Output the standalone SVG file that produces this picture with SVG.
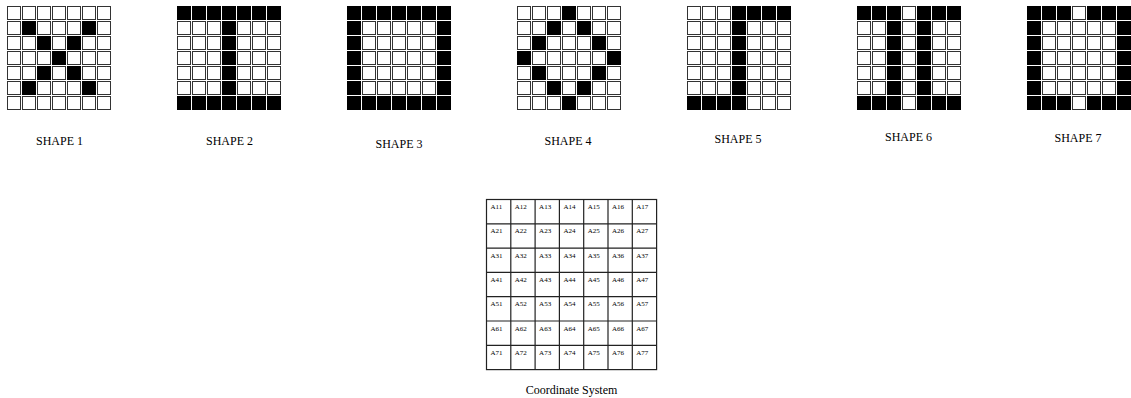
<svg xmlns="http://www.w3.org/2000/svg" xmlns:xlink="http://www.w3.org/1999/xlink" width="1131" height="398" viewBox="0 0 1131 398">
<style>
.k{fill:#000;stroke:#000;stroke-width:1}
.lbl{font-family:"Liberation Serif","Times New Roman",serif;font-size:12px;fill:#000;text-anchor:middle}
.ct{font-family:"Liberation Serif","Times New Roman",serif;font-size:7px;fill:#000}
.gl{stroke:#222;stroke-width:1.2;fill:none}
</style>
<defs>
<pattern id="cells" patternUnits="userSpaceOnUse" x="0" y="0" width="15" height="15">
<rect x="0.5" y="0.5" width="13" height="13" fill="#fff" stroke="#333" stroke-width="1"/>
</pattern>
</defs>
<rect width="1131" height="398" fill="#fff"/>

<g id="shape1" transform="translate(7,6)">
<rect width="105" height="105" fill="url(#cells)"/>
<rect class="k" x="15.5" y="15.5" width="13" height="13"/>
<rect class="k" x="75.5" y="15.5" width="13" height="13"/>
<rect class="k" x="30.5" y="30.5" width="13" height="13"/>
<rect class="k" x="60.5" y="30.5" width="13" height="13"/>
<rect class="k" x="45.5" y="45.5" width="13" height="13"/>
<rect class="k" x="30.5" y="60.5" width="13" height="13"/>
<rect class="k" x="60.5" y="60.5" width="13" height="13"/>
<rect class="k" x="15.5" y="75.5" width="13" height="13"/>
<rect class="k" x="75.5" y="75.5" width="13" height="13"/>
</g>
<text class="lbl" x="59.5" y="145">SHAPE 1</text>

<g id="shape2" transform="translate(177,6)">
<rect width="105" height="105" fill="url(#cells)"/>
<rect class="k" x="0.5" y="0.5" width="13" height="13"/>
<rect class="k" x="15.5" y="0.5" width="13" height="13"/>
<rect class="k" x="30.5" y="0.5" width="13" height="13"/>
<rect class="k" x="45.5" y="0.5" width="13" height="13"/>
<rect class="k" x="60.5" y="0.5" width="13" height="13"/>
<rect class="k" x="75.5" y="0.5" width="13" height="13"/>
<rect class="k" x="90.5" y="0.5" width="13" height="13"/>
<rect class="k" x="45.5" y="15.5" width="13" height="13"/>
<rect class="k" x="45.5" y="30.5" width="13" height="13"/>
<rect class="k" x="45.5" y="45.5" width="13" height="13"/>
<rect class="k" x="45.5" y="60.5" width="13" height="13"/>
<rect class="k" x="45.5" y="75.5" width="13" height="13"/>
<rect class="k" x="0.5" y="90.5" width="13" height="13"/>
<rect class="k" x="15.5" y="90.5" width="13" height="13"/>
<rect class="k" x="30.5" y="90.5" width="13" height="13"/>
<rect class="k" x="45.5" y="90.5" width="13" height="13"/>
<rect class="k" x="60.5" y="90.5" width="13" height="13"/>
<rect class="k" x="75.5" y="90.5" width="13" height="13"/>
<rect class="k" x="90.5" y="90.5" width="13" height="13"/>
</g>
<text class="lbl" x="229.5" y="145">SHAPE 2</text>

<g id="shape3" transform="translate(347,6)">
<rect width="105" height="105" fill="url(#cells)"/>
<rect class="k" x="0.5" y="0.5" width="13" height="13"/>
<rect class="k" x="15.5" y="0.5" width="13" height="13"/>
<rect class="k" x="30.5" y="0.5" width="13" height="13"/>
<rect class="k" x="45.5" y="0.5" width="13" height="13"/>
<rect class="k" x="60.5" y="0.5" width="13" height="13"/>
<rect class="k" x="75.5" y="0.5" width="13" height="13"/>
<rect class="k" x="90.5" y="0.5" width="13" height="13"/>
<rect class="k" x="0.5" y="15.5" width="13" height="13"/>
<rect class="k" x="90.5" y="15.5" width="13" height="13"/>
<rect class="k" x="0.5" y="30.5" width="13" height="13"/>
<rect class="k" x="90.5" y="30.5" width="13" height="13"/>
<rect class="k" x="0.5" y="45.5" width="13" height="13"/>
<rect class="k" x="90.5" y="45.5" width="13" height="13"/>
<rect class="k" x="0.5" y="60.5" width="13" height="13"/>
<rect class="k" x="90.5" y="60.5" width="13" height="13"/>
<rect class="k" x="0.5" y="75.5" width="13" height="13"/>
<rect class="k" x="90.5" y="75.5" width="13" height="13"/>
<rect class="k" x="0.5" y="90.5" width="13" height="13"/>
<rect class="k" x="15.5" y="90.5" width="13" height="13"/>
<rect class="k" x="30.5" y="90.5" width="13" height="13"/>
<rect class="k" x="45.5" y="90.5" width="13" height="13"/>
<rect class="k" x="60.5" y="90.5" width="13" height="13"/>
<rect class="k" x="75.5" y="90.5" width="13" height="13"/>
<rect class="k" x="90.5" y="90.5" width="13" height="13"/>
</g>
<text class="lbl" x="399" y="148">SHAPE 3</text>

<g id="shape4" transform="translate(517,6)">
<rect width="105" height="105" fill="url(#cells)"/>
<rect class="k" x="45.5" y="0.5" width="13" height="13"/>
<rect class="k" x="30.5" y="15.5" width="13" height="13"/>
<rect class="k" x="60.5" y="15.5" width="13" height="13"/>
<rect class="k" x="15.5" y="30.5" width="13" height="13"/>
<rect class="k" x="75.5" y="30.5" width="13" height="13"/>
<rect class="k" x="0.5" y="45.5" width="13" height="13"/>
<rect class="k" x="90.5" y="45.5" width="13" height="13"/>
<rect class="k" x="15.5" y="60.5" width="13" height="13"/>
<rect class="k" x="75.5" y="60.5" width="13" height="13"/>
<rect class="k" x="30.5" y="75.5" width="13" height="13"/>
<rect class="k" x="60.5" y="75.5" width="13" height="13"/>
<rect class="k" x="45.5" y="90.5" width="13" height="13"/>
</g>
<text class="lbl" x="568" y="145">SHAPE 4</text>

<g id="shape5" transform="translate(687,6)">
<rect width="105" height="105" fill="url(#cells)"/>
<rect class="k" x="45.5" y="0.5" width="13" height="13"/>
<rect class="k" x="60.5" y="0.5" width="13" height="13"/>
<rect class="k" x="75.5" y="0.5" width="13" height="13"/>
<rect class="k" x="90.5" y="0.5" width="13" height="13"/>
<rect class="k" x="45.5" y="15.5" width="13" height="13"/>
<rect class="k" x="45.5" y="30.5" width="13" height="13"/>
<rect class="k" x="45.5" y="45.5" width="13" height="13"/>
<rect class="k" x="45.5" y="60.5" width="13" height="13"/>
<rect class="k" x="45.5" y="75.5" width="13" height="13"/>
<rect class="k" x="0.5" y="90.5" width="13" height="13"/>
<rect class="k" x="15.5" y="90.5" width="13" height="13"/>
<rect class="k" x="30.5" y="90.5" width="13" height="13"/>
<rect class="k" x="45.5" y="90.5" width="13" height="13"/>
</g>
<text class="lbl" x="738" y="143">SHAPE 5</text>

<g id="shape6" transform="translate(857,6)">
<rect width="105" height="105" fill="url(#cells)"/>
<rect class="k" x="0.5" y="0.5" width="13" height="13"/>
<rect class="k" x="15.5" y="0.5" width="13" height="13"/>
<rect class="k" x="30.5" y="0.5" width="13" height="13"/>
<rect class="k" x="60.5" y="0.5" width="13" height="13"/>
<rect class="k" x="75.5" y="0.5" width="13" height="13"/>
<rect class="k" x="90.5" y="0.5" width="13" height="13"/>
<rect class="k" x="30.5" y="15.5" width="13" height="13"/>
<rect class="k" x="60.5" y="15.5" width="13" height="13"/>
<rect class="k" x="30.5" y="30.5" width="13" height="13"/>
<rect class="k" x="60.5" y="30.5" width="13" height="13"/>
<rect class="k" x="30.5" y="45.5" width="13" height="13"/>
<rect class="k" x="60.5" y="45.5" width="13" height="13"/>
<rect class="k" x="30.5" y="60.5" width="13" height="13"/>
<rect class="k" x="60.5" y="60.5" width="13" height="13"/>
<rect class="k" x="30.5" y="75.5" width="13" height="13"/>
<rect class="k" x="60.5" y="75.5" width="13" height="13"/>
<rect class="k" x="0.5" y="90.5" width="13" height="13"/>
<rect class="k" x="15.5" y="90.5" width="13" height="13"/>
<rect class="k" x="30.5" y="90.5" width="13" height="13"/>
<rect class="k" x="60.5" y="90.5" width="13" height="13"/>
<rect class="k" x="75.5" y="90.5" width="13" height="13"/>
<rect class="k" x="90.5" y="90.5" width="13" height="13"/>
</g>
<text class="lbl" x="908.5" y="141">SHAPE 6</text>

<g id="shape7" transform="translate(1027,6)">
<rect width="105" height="105" fill="url(#cells)"/>
<rect class="k" x="0.5" y="0.5" width="13" height="13"/>
<rect class="k" x="15.5" y="0.5" width="13" height="13"/>
<rect class="k" x="30.5" y="0.5" width="13" height="13"/>
<rect class="k" x="60.5" y="0.5" width="13" height="13"/>
<rect class="k" x="75.5" y="0.5" width="13" height="13"/>
<rect class="k" x="90.5" y="0.5" width="13" height="13"/>
<rect class="k" x="0.5" y="15.5" width="13" height="13"/>
<rect class="k" x="90.5" y="15.5" width="13" height="13"/>
<rect class="k" x="0.5" y="30.5" width="13" height="13"/>
<rect class="k" x="90.5" y="30.5" width="13" height="13"/>
<rect class="k" x="0.5" y="45.5" width="13" height="13"/>
<rect class="k" x="90.5" y="45.5" width="13" height="13"/>
<rect class="k" x="0.5" y="60.5" width="13" height="13"/>
<rect class="k" x="90.5" y="60.5" width="13" height="13"/>
<rect class="k" x="0.5" y="75.5" width="13" height="13"/>
<rect class="k" x="90.5" y="75.5" width="13" height="13"/>
<rect class="k" x="0.5" y="90.5" width="13" height="13"/>
<rect class="k" x="15.5" y="90.5" width="13" height="13"/>
<rect class="k" x="30.5" y="90.5" width="13" height="13"/>
<rect class="k" x="60.5" y="90.5" width="13" height="13"/>
<rect class="k" x="75.5" y="90.5" width="13" height="13"/>
<rect class="k" x="90.5" y="90.5" width="13" height="13"/>
</g>
<text class="lbl" x="1078" y="142">SHAPE 7</text>

<g id="coordinate-system">
<rect class="gl" x="486.5" y="199.5" width="170.1" height="170.1"/>
<path class="gl" d="M510.8 199.5V369.6M535.1 199.5V369.6M559.4 199.5V369.6M583.7 199.5V369.6M608 199.5V369.6M632.3 199.5V369.6M486.5 223.8H656.6M486.5 248.1H656.6M486.5 272.4H656.6M486.5 296.7H656.6M486.5 321H656.6M486.5 345.3H656.6"/>
<text class="ct" x="490.5" y="209">A11</text><text class="ct" x="514.8" y="209">A12</text><text class="ct" x="539.1" y="209">A13</text><text class="ct" x="563.4" y="209">A14</text><text class="ct" x="587.7" y="209">A15</text><text class="ct" x="612" y="209">A16</text><text class="ct" x="636.3" y="209">A17</text>
<text class="ct" x="490.5" y="233.3">A21</text><text class="ct" x="514.8" y="233.3">A22</text><text class="ct" x="539.1" y="233.3">A23</text><text class="ct" x="563.4" y="233.3">A24</text><text class="ct" x="587.7" y="233.3">A25</text><text class="ct" x="612" y="233.3">A26</text><text class="ct" x="636.3" y="233.3">A27</text>
<text class="ct" x="490.5" y="257.6">A31</text><text class="ct" x="514.8" y="257.6">A32</text><text class="ct" x="539.1" y="257.6">A33</text><text class="ct" x="563.4" y="257.6">A34</text><text class="ct" x="587.7" y="257.6">A35</text><text class="ct" x="612" y="257.6">A36</text><text class="ct" x="636.3" y="257.6">A37</text>
<text class="ct" x="490.5" y="281.9">A41</text><text class="ct" x="514.8" y="281.9">A42</text><text class="ct" x="539.1" y="281.9">A43</text><text class="ct" x="563.4" y="281.9">A44</text><text class="ct" x="587.7" y="281.9">A45</text><text class="ct" x="612" y="281.9">A46</text><text class="ct" x="636.3" y="281.9">A47</text>
<text class="ct" x="490.5" y="306.2">A51</text><text class="ct" x="514.8" y="306.2">A52</text><text class="ct" x="539.1" y="306.2">A53</text><text class="ct" x="563.4" y="306.2">A54</text><text class="ct" x="587.7" y="306.2">A55</text><text class="ct" x="612" y="306.2">A56</text><text class="ct" x="636.3" y="306.2">A57</text>
<text class="ct" x="490.5" y="330.5">A61</text><text class="ct" x="514.8" y="330.5">A62</text><text class="ct" x="539.1" y="330.5">A63</text><text class="ct" x="563.4" y="330.5">A64</text><text class="ct" x="587.7" y="330.5">A65</text><text class="ct" x="612" y="330.5">A66</text><text class="ct" x="636.3" y="330.5">A67</text>
<text class="ct" x="490.5" y="354.8">A71</text><text class="ct" x="514.8" y="354.8">A72</text><text class="ct" x="539.1" y="354.8">A73</text><text class="ct" x="563.4" y="354.8">A74</text><text class="ct" x="587.7" y="354.8">A75</text><text class="ct" x="612" y="354.8">A76</text><text class="ct" x="636.3" y="354.8">A77</text>
</g>
<text class="lbl" x="571.5" y="394">Coordinate System</text>
</svg>
